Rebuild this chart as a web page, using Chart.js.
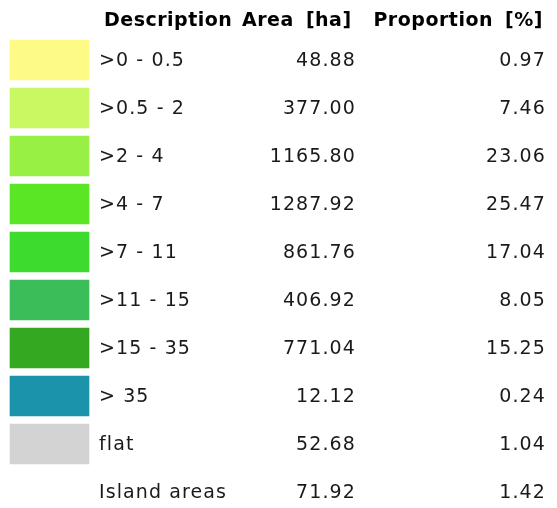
<!DOCTYPE html>
<html>
<head>
<meta charset="utf-8">
<script src="https://cdn.jsdelivr.net/npm/chart.js@4/dist/chart.umd.min.js"></script>
<style>
  html, body { margin: 0; padding: 0; background: #fff; }
  #wrap { width: 557px; height: 508px; position: relative; }
</style>
</head>
<body>
<div id="wrap"><canvas id="legendChart"></canvas></div>
<script>
// slope classes legend table
const classes = ['>0 - 0.5', '>0.5 - 2', '>2 - 4', '>4 - 7', '>7 - 11', '>11 - 15', '>15 - 35', '> 35', 'flat', 'Island areas'];
const areaHa = [48.88, 377.00, 1165.80, 1287.92, 861.76, 406.92, 771.04, 12.12, 52.68, 71.92];
const proportion = [0.97, 7.46, 23.06, 25.47, 17.04, 8.05, 15.25, 0.24, 1.04, 1.42];
const swatchColors = ['#fdfa85', '#c9f863', '#97f043', '#5be625', '#3edb2f', '#3bbd5a', '#34a820', '#1b94ab', '#d3d3d3', null];
const headers = ['Description', 'Area [ha]', 'Proportion [%]'];

// swatch bar = 1 unit wide, no swatch for island areas
const swatchValues = swatchColors.map(c => c ? 1 : null);

const tableText = {
  id: 'tableText',
  afterDraw(chart) {
    const ctx = chart.ctx;
    const y = chart.scales.y;
    ctx.save();
    ctx.fillStyle = '#000';
    ctx.textBaseline = 'middle';
    ctx.font = 'bold 19px "DejaVu Sans"';
    ctx.letterSpacing = '0.5px';
    ctx.wordSpacing = '5px';
    ctx.textAlign = 'left';
    ctx.fillText(headers[0], 104, 21);
    ctx.fillText(headers[1], 242, 21);
    ctx.textAlign = 'right';
    ctx.fillText(headers[2], 543, 21);

    ctx.fillStyle = '#1a1a1a';
    ctx.font = '19px "DejaVu Sans"';
    ctx.letterSpacing = '1.1px';
    ctx.wordSpacing = '0px';
    classes.forEach((label, i) => {
      const py = y.getPixelForValue(i) + 1;
      ctx.textAlign = 'left';
      ctx.fillText(label, 99, py);
      ctx.textAlign = 'right';
      ctx.fillText(areaHa[i].toFixed(2), 356, py);
      ctx.fillText(proportion[i].toFixed(2), 546, py);
    });
    ctx.restore();
  }
};

new Chart(document.getElementById('legendChart'), {
  type: 'bar',
  data: {
    labels: classes,
    datasets: [{
      data: swatchValues,
      backgroundColor: swatchColors.map(c => c || 'rgba(0,0,0,0)'),
      borderWidth: 0,
      barThickness: 40,
      clip: false
    }]
  },
  options: {
    indexAxis: 'y',
    responsive: true,
    maintainAspectRatio: false,
    animation: false,
    layout: { padding: { left: 10, right: 468, top: 60, bottom: 16 } },
    plugins: { legend: { display: false }, tooltip: { enabled: false } },
    scales: {
      x: { display: false, min: 0, max: 1 },
      y: { display: false, offset: false, grid: { offset: false } }
    }
  },
  plugins: [tableText]
});
</script>
</body>
</html>
